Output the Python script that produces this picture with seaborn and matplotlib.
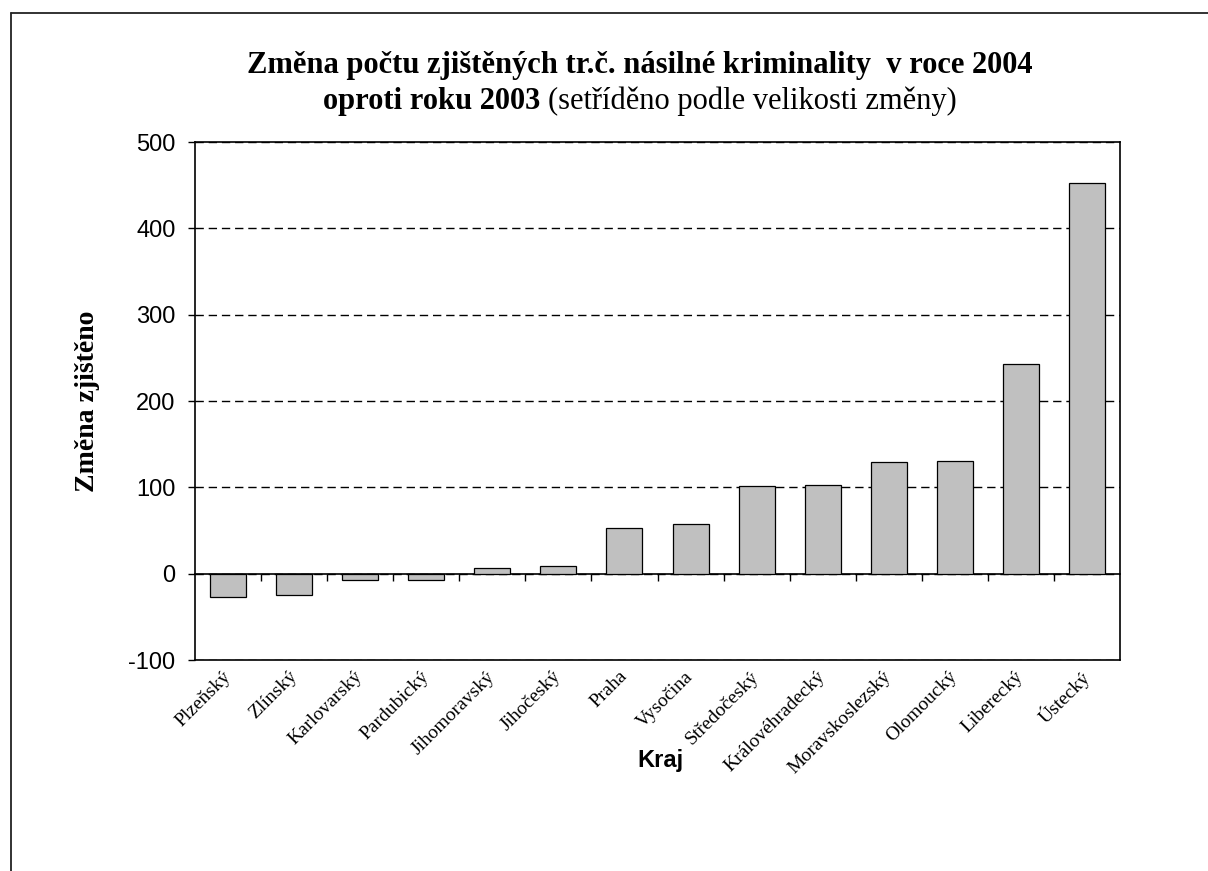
import numpy as np
import pandas as pd
import matplotlib
matplotlib.use("Agg")
import matplotlib.pyplot as plt
import seaborn as sns
from matplotlib.lines import Line2D

# Data - change in number of violent crimes 2004 vs 2003 by region
kraje = ["Plzeňský", "Zlínský", "Karlovarský", "Pardubický", "Jihomoravský",
         "Jihočeský", "Praha", "Vysočina", "Středočeský", "Královéhradecký",
         "Moravskoslezský", "Olomoucký", "Liberecký", "Ústecký"]
zmena = [-27, -25, -7, -7, 6, 9, 53, 58, 102, 103, 129, 131, 243, 453]
y_ticks = [-100, 0, 100, 200, 300, 400, 500]

df = pd.DataFrame({"Kraj": kraje, "Zmena": zmena})

sns.set_style("white")
plt.rcParams["font.family"] = ["Liberation Sans", "DejaVu Sans"]
plt.rcParams["text.color"] = "black"
plt.rcParams["axes.labelcolor"] = "black"
plt.rcParams["xtick.color"] = "black"
plt.rcParams["ytick.color"] = "black"

fig = plt.figure(figsize=(12.08, 8.71), dpi=100)
ax = fig.add_axes([195 / 1208, 1 - 660 / 871, (1120 - 195) / 1208, (660 - 142) / 871])

sns.barplot(data=df, x="Kraj", y="Zmena", color="#C0C0C0", saturation=1,
            edgecolor="black", linewidth=0.9, width=0.545, ax=ax, zorder=3)

ax.set_xlim(-0.5, len(kraje) - 0.5)
ax.set_ylim(y_ticks[0], y_ticks[-1])
ax.set_yticks(y_ticks)
ax.set_yticklabels([str(t) for t in y_ticks], fontsize=17)
ax.tick_params(axis="y", direction="out", length=5, width=1, pad=9, left=True)

# dashed gridlines
ax.yaxis.grid(True, color="black", linewidth=1, linestyle=(0, (6, 3.5)), zorder=0)
ax.set_axisbelow(True)

# category labels
ax.tick_params(axis="x", length=0, pad=10)
for lab in ax.get_xticklabels():
    lab.set_rotation(45)
    lab.set_ha("right")
    lab.set_va("center")
    lab.set_rotation_mode("anchor")
    lab.set_fontfamily("Liberation Serif")
    lab.set_fontsize(14)

for sp in ax.spines.values():
    sp.set_color("black")
    sp.set_linewidth(1.2)

# category axis crossing at zero, ticks between categories
zero_pos = (0 - y_ticks[0]) / (y_ticks[-1] - y_ticks[0])
sec = ax.secondary_xaxis(zero_pos)
sec.set_xticks(np.arange(len(kraje) - 1) + 0.5)
sec.set_xticklabels([])
sec.tick_params(direction="out", length=5, width=1, color="black")
sec.spines["bottom"].set_linewidth(1.2)
sec.spines["bottom"].set_color("black")

ax.set_xlabel("Kraj", fontsize=17, fontweight="bold", labelpad=0)
ax.xaxis.set_label_coords(0.503, 1 - (749 - 142) / (660 - 142))
ax.set_ylabel("Změna zjištěno", fontsize=20, fontweight="bold",
              fontfamily="Liberation Serif")
ax.yaxis.set_label_coords((100 - 195) / (1120 - 195), 0.5)

# title, two lines, second line mixes bold and regular
fig.text(640 / 1208, 1 - 66 / 871,
         "Změna počtu zjištěných tr.č. násilné kriminality  v roce 2004",
         ha="center", va="center", fontsize=22, fontweight="bold",
         fontfamily="Liberation Serif")
t1 = fig.text(0, 1 - 101 / 871, "oproti roku 2003 ", ha="left", va="center",
              fontsize=22, fontweight="bold", fontfamily="Liberation Serif")
t2 = fig.text(0, 1 - 101 / 871, "(setříděno podle velikosti změny)", ha="left",
              va="center", fontsize=22, fontfamily="Liberation Serif")
fig.canvas.draw()
r = fig.canvas.get_renderer()
w1 = t1.get_window_extent(r).width
w2 = t2.get_window_extent(r).width
x0 = 640 - (w1 + w2) / 2
t1.set_x(x0 / 1208)
t2.set_x((x0 + w1) / 1208)

# chart border (cropped: only left and top visible)
fig.add_artist(Line2D([11 / 1208, 1], [1 - 13 / 871, 1 - 13 / 871],
                      transform=fig.transFigure, color="#222222", linewidth=1.3))
fig.add_artist(Line2D([11 / 1208, 11 / 1208], [0, 1 - 13 / 871],
                      transform=fig.transFigure, color="#222222", linewidth=1.3))

fig.savefig("out.png", dpi=100)
